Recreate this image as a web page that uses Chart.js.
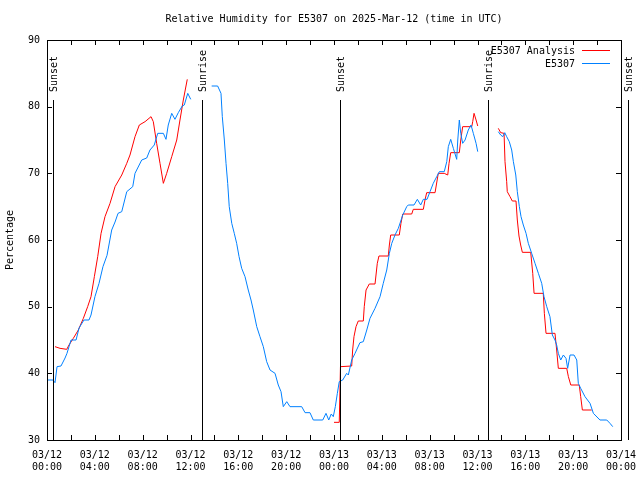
<!DOCTYPE html>
<html><head><meta charset="utf-8">
<script src="https://cdn.jsdelivr.net/npm/chart.js@4.4.1/dist/chart.umd.min.js"></script>
<style>html,body{margin:0;padding:0;background:#fff;}</style>
</head><body>
<canvas id="c" width="640" height="480"></canvas>
<script>
const TITLE = 'Relative Humidity for E5307 on 2025-Mar-12 (time in UTC)';
const Y_TITLE = 'Percentage';
const seriesNames = ['E5307 Analysis', 'E5307'];
const yTickValues = [30, 40, 50, 60, 70, 80, 90];
const xLabelHours = [0, 4, 8, 12, 16, 20, 24, 28, 32, 36, 40, 44, 48];
const xMinorHours = [0,2,4,6,8,10,12,14,16,18,20,22,24,26,28,30,32,34,36,38,40,42,44,46,48];
const eventHours = [0.5, 12.96, 24.5, 36.88, 48.59];
const eventLabels = ['Sunset', 'Sunrise', 'Sunset', 'Sunrise', 'Sunset'];

// hours since 03/12 00:00 UTC; null = gap
const blueHours = [
 0.08,0.5,0.67,0.84,1.17,1.51,1.67,1.84,2.01,2.43,
 2.68,3.09,3.51,3.68,4.01,4.35,4.68,5.02,5.41,5.69,
 5.94,6.25,6.67,7.17,7.36,7.92,8.34,8.61,8.97,9.26,
 9.73,9.95,10.14,10.43,10.70,10.98,11.31,11.48,11.77,12.02,
 12.9,
 13.77,14.27,14.55,14.66,14.83,14.97,15.11,15.24,15.45,15.66,
 15.86,16.06,16.28,16.56,16.83,17.06,17.25,17.54,17.81,18.09,
 18.37,18.65,19.07,19.34,19.57,19.76,20.05,20.32,21.30,21.58,
 21.99,22.27,23.06,23.33,23.56,23.77,23.94,24.11,24.28,24.44,
 24.73,25.06,25.20,25.48,25.76,26.17,26.45,26.74,27.01,27.43,
 27.85,28.12,28.41,28.63,28.83,29.10,29.38,29.75,30.08,30.21,
 30.69,30.97,31.25,31.47,31.78,32.03,32.30,32.59,32.81,33.22,
 33.43,33.56,33.76,33.98,34.26,34.35,34.48,34.60,34.76,34.96,
 35.23,35.46,35.65,35.88,36.02,
 36.9,
 37.74,37.94,38.11,38.28,38.44,38.66,38.86,39.00,39.20,39.33,
 39.50,39.64,39.83,40.06,40.25,40.53,40.81,41.09,41.37,41.56,
 41.79,42.06,42.26,42.48,42.62,42.76,42.96,43.18,43.40,43.54,
 43.74,44.07,44.30,44.43,44.63,44.99,45.41,45.69,46.24,46.81,
 47.08,47.31
];
const blueValues = [
 39,39,38.6,41,41.1,42.3,43,44,45,45,
 46.8,48,48,48.75,51.5,53.5,56,57.7,61.5,62.7,
 64,64.25,67.25,68,70,72,72.3,73.5,74.25,76,
 76,75.1,77.25,79,78.1,79.1,80.1,80.25,82,81.1,
 null,
 83.1,83.1,82,78.5,75,71.5,68.5,65,62.5,61,
 59.5,57.5,55.75,54.5,52.5,51,49.5,47,45.5,44,
 41.75,40.5,40,38.25,37.25,35,35.75,35,35,34.1,
 34.1,33,33,34,33,33.9,33.5,35,37,38.75,
 39,40,39.75,42,43,44.6,44.75,46.5,48.25,49.75,
 51.5,53.5,55.5,58,59.5,60.75,61.75,63.75,65,65.25,
 65.25,66.1,65.25,66.1,66.1,67.25,68.5,69.5,70.25,70.25,
 71.75,74,75.1,73.75,72.1,75,78,76,74.5,75,
 76.5,77.25,76,74.5,73.25,
 null,
 76.25,75.75,75.5,76.1,75.5,74.75,73.5,71.75,69.75,67.25,
 65,63.5,62.25,61,59.5,58,56.5,55,53.5,51.5,
 50,48.5,45.75,45,44.25,43,42,42.75,42.25,40.75,
 42.75,42.75,42,38.5,37.75,36.5,35.5,34,33,33,
 32.5,32
];

const redHours = [
 0.67,1.09,1.65,1.84,2.20,2.62,3.04,3.40,3.68,3.96,
 4.24,4.52,4.85,5.27,5.69,6.25,6.67,6.94,7.36,7.72,
 8.20,8.70,8.89,9.17,9.45,9.73,10.01,10.43,10.85,11.12,
 11.40,11.73,
 18.0,
 24.00,24.44,24.54,25.48,25.56,25.67,25.84,26.03,26.45,26.53,
 26.68,26.95,27.43,27.62,27.76,28.54,28.63,28.74,29.46,29.60,
 29.75,30.50,30.63,31.47,31.61,31.75,32.45,32.72,33.22,33.51,
 33.62,33.76,34.48,34.60,34.76,35.52,35.60,35.71,35.88,36.02,
 36.9,
 37.74,37.94,38.22,38.30,38.44,38.49,38.72,38.91,39.22,39.33,
 39.47,39.61,39.75,40.45,40.62,40.73,41.50,41.59,41.73,42.48,
 42.62,42.76,43.46,43.60,43.80,44.51,44.63,44.77,45.55
];
const redValues = [
 44,43.75,43.6,44.25,45.25,46.5,48.25,50,51.5,54.5,
 57.5,61,63.5,65.5,68,69.75,71.5,72.75,75.5,77.25,
 77.75,78.5,77.75,74.5,71.5,68.5,70,72.5,75,78,
 81,84.1,
 null,
 32.65,32.65,41,41.1,43.5,45.5,47,47.85,47.85,50,
 52.5,53.4,53.4,56.5,57.6,57.6,59.25,60.75,60.75,62.5,
 63.9,63.9,64.6,64.6,66,67.1,67.1,70,70,69.75,
 71.5,73.1,73.1,75,77,77,77.75,79,78,77.1,
 null,
 76.75,76.1,76,71.75,68.75,67.25,66.5,65.85,65.85,63,
 60.6,59.25,58.15,58.15,55,52,52,49,46,46,
 43.5,40.75,40.75,39.5,38.25,38.25,36.5,34.5,34.5
];

const FONT = 'DejaVu Sans Mono';
const toPts = (hs, vs) => hs.map((h, i) => ({x: h, y: vs[i]}));
function hourLabel(v) {
  const day = 12 + Math.floor(v / 24);
  const hh = v % 24;
  return ['03/' + String(day).padStart(2, '0'), String(hh).padStart(2, '0') + ':00'];
}

const decor = {
  id: 'decor',
  afterDatasetsDraw(chart) {
    const {ctx, chartArea: a, scales: {x, y}} = chart;
    ctx.save();
    ctx.strokeStyle = '#000';
    ctx.lineWidth = 1;
    // frame
    ctx.strokeRect(a.left + 0.5, a.top + 0.5, a.right - a.left, a.bottom - a.top);
    // x ticks (inward, top and bottom)
    ctx.beginPath();
    xMinorHours.forEach(h => {
      const px = Math.round(x.getPixelForValue(h)) + 0.5;
      ctx.moveTo(px, a.bottom); ctx.lineTo(px, a.bottom - 5);
      ctx.moveTo(px, a.top); ctx.lineTo(px, a.top + 5);
    });
    yTickValues.forEach(v => {
      const py = Math.round(y.getPixelForValue(v)) + 0.5;
      ctx.moveTo(a.left, py); ctx.lineTo(a.left + 5, py);
      ctx.moveTo(a.right, py); ctx.lineTo(a.right - 5, py);
    });
    ctx.stroke();
    // sunrise / sunset markers
    ctx.font = '10px "' + FONT + '"';
    ctx.fillStyle = '#000';
    eventHours.forEach((h, i) => {
      const px = Math.round(x.getPixelForValue(h)) + 0.5;
      ctx.beginPath();
      ctx.moveTo(px, a.top + 60); ctx.lineTo(px, a.bottom);
      ctx.stroke();
      ctx.save();
      ctx.translate(px + 1, a.top + 52);
      ctx.rotate(-Math.PI / 2);
      ctx.textAlign = 'left';
      ctx.textBaseline = 'middle';
      ctx.fillText(eventLabels[i], 0, 0);
      ctx.restore();
    });
    // legend
    ctx.textAlign = 'right';
    ctx.textBaseline = 'middle';
    chart.data.datasets.slice().sort((p, q) => p.legendIndex - q.legendIndex).forEach((ds, i) => {
      const ty = a.top + 11 + i * 13;
      ctx.fillStyle = '#000';
      ctx.fillText(ds.label, a.right - 46, ty);
      ctx.strokeStyle = ds.borderColor;
      ctx.beginPath();
      ctx.moveTo(a.right - 39, Math.round(ty - 1) + 0.5);
      ctx.lineTo(a.right - 11, Math.round(ty - 1) + 0.5);
      ctx.stroke();
    });
    ctx.restore();
  }
};

Chart.defaults.color = '#000';
Chart.defaults.font.family = FONT;
Chart.defaults.font.size = 10;

new Chart(document.getElementById('c'), {
  type: 'line',
  data: {
    datasets: [
      {label: seriesNames[1], legendIndex: 1, data: toPts(blueHours, blueValues), borderColor: '#0080ff', borderWidth: 1, pointRadius: 0, tension: 0, spanGaps: false, order: 0},
      {label: seriesNames[0], legendIndex: 0, data: toPts(redHours, redValues), borderColor: '#ff0000', borderWidth: 1, pointRadius: 0, tension: 0, spanGaps: false, order: 1}
    ]
  },
  options: {
    responsive: false,
    animation: false,
    layout: {padding: {left: 0, right: 19, top: 0, bottom: 0}},
    plugins: {
      legend: {display: false},
      tooltip: {enabled: false},
      title: {display: true, text: TITLE, fullSize: false, color: '#000',
        font: {family: FONT, size: 10, weight: 'normal'}, padding: {top: 13, bottom: 15}}
    },
    scales: {
      x: {
        type: 'linear', min: 0, max: 48,
        afterBuildTicks: s => { s.ticks = xLabelHours.map(v => ({value: v})); },
        afterFit: s => { s.height = 40; s.paddingLeft = 0; s.paddingRight = 0; },
        ticks: {callback: v => hourLabel(v), maxRotation: 0, autoSkip: false, padding: 9,
          font: {family: FONT, size: 10, lineHeight: 1.25}},
        grid: {display: false, drawTicks: false},
        border: {display: false}
      },
      y: {
        min: 30, max: 90,
        afterBuildTicks: s => { s.ticks = yTickValues.map(v => ({value: v})); },
        afterFit: s => { s.width = 47; s.paddingTop = 0; s.paddingBottom = 0; },
        ticks: {padding: 7, font: {family: FONT, size: 10}},
        grid: {display: false, drawTicks: false},
        border: {display: false},
        title: {display: true, text: Y_TITLE, font: {family: FONT, size: 10}, padding: {top: 4, bottom: 0}}
      }
    }
  },
  plugins: [decor]
});
</script>
</body></html>
